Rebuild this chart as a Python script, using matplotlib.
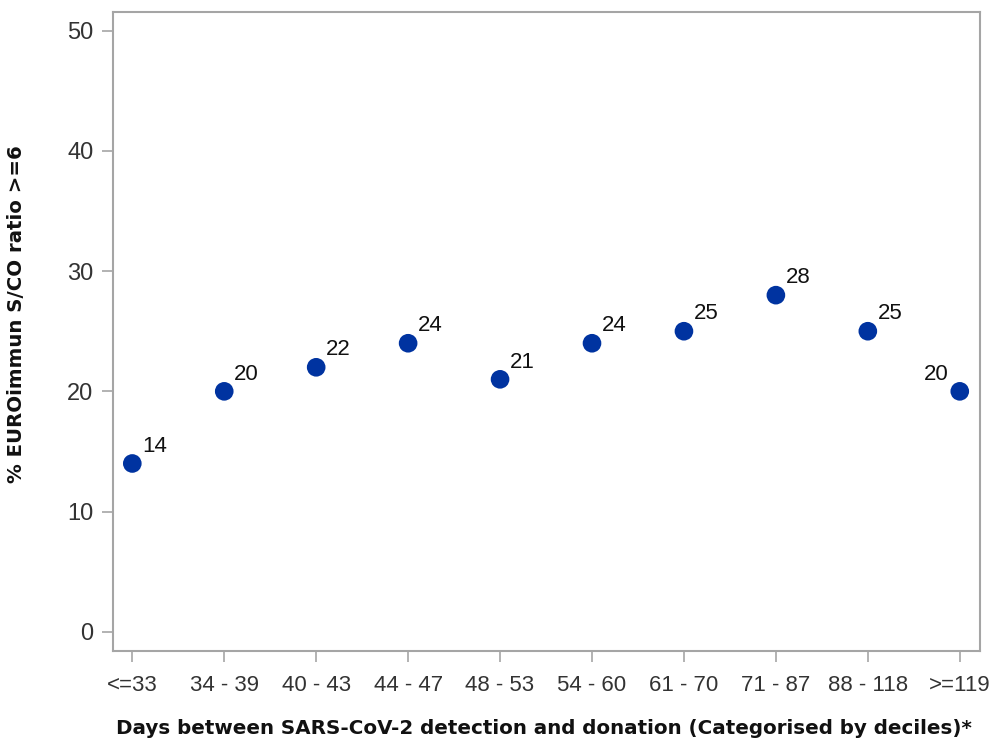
import matplotlib
matplotlib.use("Agg")
import matplotlib.pyplot as plt

plt.rcParams["font.family"] = ["Liberation Sans", "DejaVu Sans"]

CATEGORIES = ["<=33", "34 - 39", "40 - 43", "44 - 47", "48 - 53",
              "54 - 60", "61 - 70", "71 - 87", "88 - 118", ">=119"]
PCT = [14, 20, 22, 24, 21, 24, 25, 28, 25, 20]
Y_TICKS = [0, 10, 20, 30, 40, 50]

GREY = "#a5a5a5"
DOT = "#0033a0"
BOLD_FONT = ["DejaVu Sans"]

fig = plt.figure(figsize=(9.92, 7.42), dpi=100)
ax = fig.add_axes([0.1139, 0.1226, 0.8740, 0.8612])

x = list(range(len(CATEGORIES)))
ax.scatter(x, PCT, s=180, color=DOT, edgecolors="none", zorder=3)
for i, (xi, v) in enumerate(zip(x, PCT)):
    # last label sits to the upper-left of its dot
    if i == len(PCT) - 1:
        off, ha = (-8, 8.5), "right"
    else:
        off, ha = (7, 8.5), "left"
    ax.annotate(str(v), (xi, v), xytext=off, textcoords="offset points",
                ha=ha, va="baseline", fontsize=16, color="#111111")

ax.set_xlim(-0.21, 9.22)
ax.set_ylim(-1.6, 51.55)
ax.set_xticks(x)
ax.set_xticklabels(CATEGORIES)
ax.set_yticks(Y_TICKS)

for s in ax.spines.values():
    s.set_color(GREY)
    s.set_linewidth(1.5)
ax.tick_params(axis="both", direction="out", length=8, width=1.2,
               color=GREY, labelcolor="#333333")
ax.tick_params(axis="x", pad=9, labelsize=16)
ax.tick_params(axis="y", pad=6, labelsize=17)

ax.set_xlabel("Days between SARS-CoV-2 detection and donation (Categorised by deciles)*",
              fontsize=14.3, fontweight="bold", family=BOLD_FONT, color="#111111")
ax.set_ylabel("% EUROimmun S/CO ratio >=6", fontsize=14.2, fontweight="bold",
              family=BOLD_FONT, color="#111111")
ax.xaxis.set_label_coords(0.497, -0.107)
ax.yaxis.set_label_coords(-0.100, 0.527)

fig.savefig("out.png", dpi=100)
